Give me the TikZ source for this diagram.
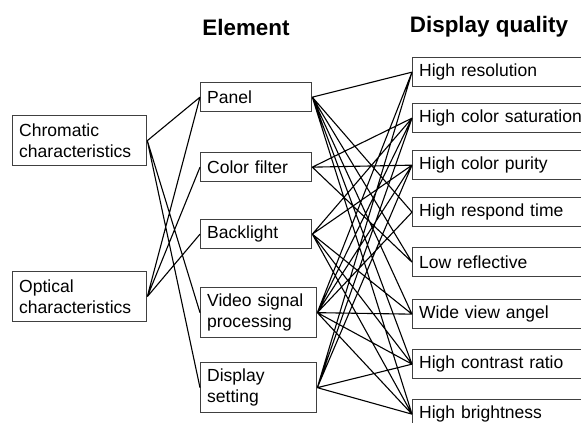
\documentclass[tikz,border=0pt]{standalone}
\usepackage{fontspec}
\setmainfont{Liberation Sans}
\begin{document}
\begin{tikzpicture}[x=1bp, y=-1bp,
        box/.style = {draw=black!75, line width=1.3bp, anchor=north west, align=left,
            inner xsep=6.5bp, inner ysep=0pt, font=\fontsize{17.6}{21}\selectfont},
        cause/.style = {box, text width=121bp, minimum height=50bp},
        elem/.style = {box, text width=98bp, minimum height=29bp},
        elemtall/.style = {box, text width=103bp, minimum height=50bp},
        quality/.style = {box, text width=187bp, minimum height=29bp},
        title/.style = {font=\bfseries\fontsize{22.5}{26}\selectfont},
        link/.style = {line width=1.1bp}]
    \useasboundingbox (0,0) rectangle (581,422);
    \clip (0,0) rectangle (581,422);

    \node[title] (elemtitle) at (246,27) {Element};
    \node[title] (qualtitle) at (489,27) {Display quality};

    % left column
    \node[cause] (chrom) at (12,115) {Chromatic\\characteristics};
    \node[cause] (optic) at (12,271) {Optical\\characteristics};

    % element column
    \node[elem] (panel) at (200,82) {Panel};
    \node[elem] (cfilter) at (200,152) {Color filter};
    \node[elem] (blight) at (200,219) {Backlight};
    \node[elemtall] (video) at (200,287) {Video signal\\processing};
    \node[elemtall] (dset) at (200,362) {Display\\setting};

    % display quality column
    \node[quality] (hres) at (412,57) {High resolution};
    \node[quality] (hsat) at (412,103) {High color saturation};
    \node[quality] (hpur) at (412,150) {High color purity};
    \node[quality] (hresp) at (412,197) {High respond time};
    \node[quality] (lrefl) at (412,247) {Low reflective};
    \node[quality] (wview) at (412,299) {Wide view angel};
    \node[quality] (hcon) at (412,349) {High contrast ratio};
    \node[quality] (hbri) at (412,399) {High brightness};

    \draw[link]
        \foreach \a/\b in {chrom/panel, chrom/video, chrom/dset,
                           optic/panel, optic/cfilter, optic/blight} {
            (\a.east) -- (\b.west)
        };

    \draw[link]
        \foreach \a/\b in {panel/hres, panel/hresp, panel/lrefl, panel/wview, panel/hcon, panel/hbri,
                           cfilter/hsat, cfilter/hpur, cfilter/lrefl,
                           blight/hsat, blight/hpur, blight/wview, blight/hcon, blight/hbri,
                           video/hres, video/hsat, video/hpur, video/hresp, video/wview, video/hcon, video/hbri,
                           dset/hres, dset/hsat, dset/hpur, dset/hcon, dset/hbri} {
            (\a.east) -- (\b.west)
        };
\end{tikzpicture}
\end{document}
